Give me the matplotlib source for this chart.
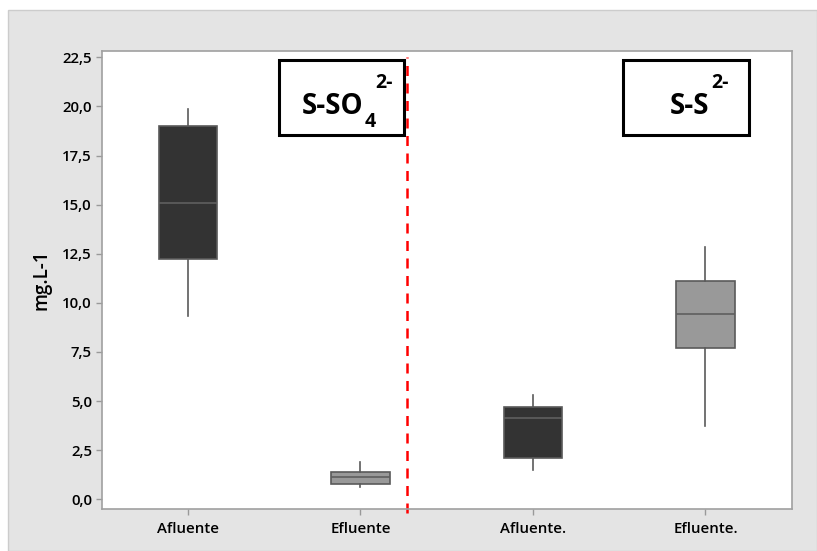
import matplotlib
matplotlib.use("Agg")
import matplotlib.pyplot as plt
from matplotlib.patches import Rectangle
from matplotlib.ticker import FuncFormatter

# box plot summary values (mg.L-1)
groups = ['Afluente', 'Efluente', 'Afluente.', 'Efluente.']
whislo = [9.35, 0.63, 1.48, 3.75]
q1 = [12.22, 0.80, 2.09, 7.69]
med = [15.07, 1.15, 4.16, 9.45]
q3 = [18.99, 1.37, 4.72, 11.12]
whishi = [19.87, 1.90, 5.33, 12.83]
fills = ['#333333', '#999999', '#333333', '#999999']
yticks = [0, 2.5, 5, 7.5, 10, 12.5, 15, 17.5, 20, 22.5]

plt.rcParams['font.family'] = ['Open Sans', 'DejaVu Sans']

W, H = 817, 551
fig = plt.figure(figsize=(W / 100, H / 100), dpi=100)
fig.patch.set_facecolor('white')

# grey Minitab-style backdrop
fig.patches.append(Rectangle((8 / W, 0), 1 - 8 / W, 1 - 10 / H, transform=fig.transFigure,
                             facecolor='#e4e4e4', edgecolor='#cccccc', linewidth=1, zorder=-10))

ax = fig.add_axes([101.7 / W, 1 - 509.3 / H, 690 / W, 458.6 / H])
ax.set_facecolor('white')

stats = []
for i, g in enumerate(groups):
    stats.append({'label': g, 'whislo': whislo[i], 'q1': q1[i], 'med': med[i],
                  'q3': q3[i], 'whishi': whishi[i], 'fliers': []})

bp = ax.bxp(stats, positions=[1, 2, 3, 4], widths=0.34, patch_artist=True, showcaps=False,
            whiskerprops=dict(color='#5a5a5a', linewidth=1.2),
            medianprops=dict(color='#5f5f5f', linewidth=1.2),
            boxprops=dict(edgecolor='#5a5a5a', linewidth=1.2))
for patch, c in zip(bp['boxes'], fills):
    patch.set_facecolor(c)

ax.set_xlim(0.5, 4.5)
ax.set_ylim(-0.51, 22.84)
ax.set_yticks(yticks)
ax.yaxis.set_major_formatter(FuncFormatter(lambda v, p: f'{v:.1f}'.replace('.', ',')))
ax.set_xticks([1, 2, 3, 4])
ax.set_xticklabels(groups)
for lab in ax.get_xticklabels() + ax.get_yticklabels():
    lab.set_fontsize(10.8)
    lab.set_fontweight('semibold')
ax.tick_params(direction='out', length=4, width=1, color='#999999', pad=3)
ax.tick_params(axis='x', pad=5)
for s in ax.spines.values():
    s.set_color('#a0a0a0')
    s.set_linewidth(1.2)

ax.set_ylabel('mg.L-1', fontsize=13.5, fontweight='semibold', labelpad=8)

# red dashed divider
ax.axvline(2.268, ymin=-0.008, ymax=0.986, color='#ff0000', linestyle=(0, (4, 3)),
           linewidth=1.8, clip_on=False)

# labelled boxes
def px(x, y):
    return x / W, 1 - y / H

for x0, x1 in [(279.3, 404.3), (623.3, 748.7)]:
    fx, fy = px(x0, 134.7)
    fig.patches.append(Rectangle((fx, fy), (x1 - x0) / W, (134.7 - 60.3) / H,
                                 transform=fig.transFigure, facecolor='white',
                                 edgecolor='black', linewidth=2.2, zorder=5))

tk = dict(fontweight='bold', color='black', zorder=6)
fig.text(*px(302, 113.5), 'S-SO', fontsize=20, ha='left', va='baseline', **tk)
fig.text(*px(364.5, 127), '4', fontsize=14, ha='left', va='baseline', **tk)
fig.text(*px(375.5, 87.5), '2-', fontsize=14, ha='left', va='baseline', **tk)
fig.text(*px(670, 113.5), 'S-S', fontsize=20, ha='left', va='baseline', **tk)
fig.text(*px(711, 87.5), '2-', fontsize=14, ha='left', va='baseline', **tk)

fig.savefig('out.png', dpi=100)
